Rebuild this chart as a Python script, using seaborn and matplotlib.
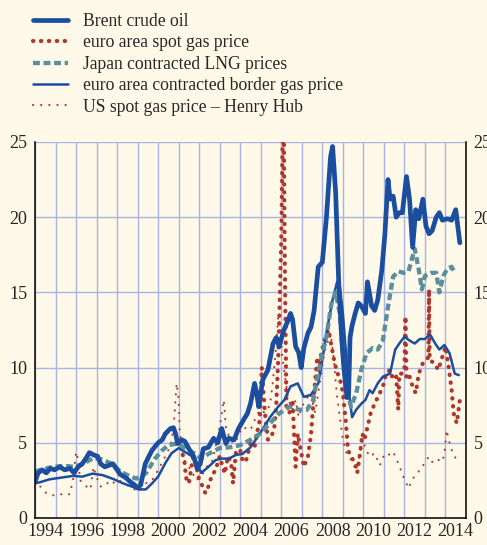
import seaborn as sns
import matplotlib.pyplot as plt
from matplotlib.ticker import FixedLocator, NullFormatter

# colours
bg = "#fef9e8"
grid_col = "#aab4e4"
dark_blue = "#1b4e9f"
red = "#b0352b"
teal = "#5b8f9d"

# Brent crude oil
brent_t = [1994.0, 1994.15, 1994.35, 1994.55, 1994.75, 1994.95, 1995.2, 1995.45, 1995.7, 1995.9,
           1996.1, 1996.3, 1996.5, 1996.65, 1996.85, 1997.05, 1997.2, 1997.4, 1997.6, 1997.8,
           1997.95, 1998.15, 1998.4, 1998.65, 1998.85, 1999.0, 1999.15, 1999.37, 1999.55, 1999.7,
           2000.0, 2000.2, 2000.35, 2000.6, 2000.75, 2000.85, 2000.95, 2001.15, 2001.3, 2001.5,
           2001.73, 2001.9, 2002.05, 2002.2, 2002.45, 2002.7, 2002.9, 2003.1, 2003.3, 2003.45,
           2003.7, 2003.9, 2004.15, 2004.35, 2004.5, 2004.7, 2004.8, 2004.9, 2005.1, 2005.35,
           2005.6, 2005.75, 2005.9, 2006.1, 2006.3, 2006.45, 2006.55, 2006.7, 2006.85, 2006.97,
           2007.1, 2007.3, 2007.45, 2007.6, 2007.8, 2008.0, 2008.2, 2008.4, 2008.5, 2008.65,
           2008.8, 2008.95, 2009.05, 2009.2, 2009.28, 2009.35, 2009.45, 2009.6, 2009.75, 2009.9,
           2010.1, 2010.2, 2010.4, 2010.55, 2010.7, 2010.9, 2011.05, 2011.2, 2011.3, 2011.45,
           2011.6, 2011.75, 2011.9, 2012.1, 2012.25, 2012.4, 2012.55, 2012.7, 2012.9, 2013.05,
           2013.2, 2013.35, 2013.55, 2013.7, 2013.85, 2014.1, 2014.3, 2014.5, 2014.7]
brent_v = [2.4, 3.0, 3.2, 3.0, 3.3, 3.2, 3.4, 3.2, 3.3, 3.0,
           3.4, 3.6, 4.0, 4.35, 4.2, 4.1, 3.6, 3.4, 3.5, 3.6,
           3.3, 2.9, 2.7, 2.4, 2.2, 2.0, 2.2, 3.6, 4.1, 4.5,
           5.0, 5.2, 5.6, 5.95, 6.0, 5.6, 4.95, 5.2, 5.1, 4.6,
           4.1, 3.3, 3.6, 4.6, 4.7, 5.3, 5.0, 5.95, 4.95, 5.3,
           5.2, 5.9, 6.5, 6.95, 7.6, 8.95, 8.3, 7.4, 9.2, 9.85,
           11.6, 12.0, 11.4, 12.4, 13.05, 13.6, 13.2, 11.4, 11.0, 10.0,
           11.3, 12.3, 12.7, 13.8, 16.7, 17.0, 20.0, 24.0, 24.7, 21.6,
           15.6, 11.8, 10.0, 8.0, 8.2, 12.0, 12.8, 13.6, 14.3, 14.1,
           13.6, 15.7, 14.1, 13.8, 14.5, 16.5, 18.9, 22.5, 21.2, 21.4,
           20.0, 20.3, 20.3, 22.7, 21.2, 18.0, 20.5, 19.9, 21.2, 19.4,
           18.9, 19.1, 20.0, 20.3, 19.8, 19.9, 19.8, 20.5, 18.3]

# euro area spot gas price
spot_t = [2001.2, 2001.3, 2001.35, 2001.5, 2001.7, 2001.85, 2001.95, 2002.1, 2002.3, 2002.45,
          2002.6, 2002.8, 2003.0, 2003.1, 2003.25, 2003.4, 2003.55, 2003.65, 2003.8, 2004.0,
          2004.1, 2004.25, 2004.35, 2004.5, 2004.7, 2004.85, 2004.95, 2005.05, 2005.1, 2005.2,
          2005.35, 2005.5, 2005.65, 2005.75, 2005.85, 2005.9, 2006.0, 2006.08, 2006.12, 2006.16,
          2006.25, 2006.4, 2006.55, 2006.65, 2006.7, 2006.8, 2006.95, 2007.1, 2007.3, 2007.45,
          2007.6, 2007.75, 2007.85, 2007.95, 2008.1, 2008.3, 2008.45, 2008.6, 2008.75, 2008.9,
          2009.0, 2009.15, 2009.25, 2009.4, 2009.6, 2009.7, 2009.8, 2009.95, 2010.05, 2010.2,
          2010.35, 2010.55, 2010.8, 2011.0, 2011.1, 2011.3, 2011.45, 2011.6, 2011.7, 2011.75,
          2011.9, 2012.0, 2012.05, 2012.1, 2012.25, 2012.4, 2012.55, 2012.7, 2012.9, 2013.05,
          2013.17, 2013.2, 2013.23, 2013.45, 2013.65, 2013.8, 2014.0, 2014.15, 2014.3, 2014.4,
          2014.55, 2014.7]
spot_v = [4.2, 3.6, 2.7, 2.3, 4.1, 3.6, 2.75, 2.3, 1.65, 2.1,
          2.75, 3.2, 4.1, 3.6, 2.95, 4.1, 3.75, 2.3, 4.5, 4.5,
          3.9, 3.7, 4.1, 5.0, 4.75, 5.85, 6.5, 10.0, 9.0, 7.0,
          5.2, 5.4, 5.85, 7.4, 10.5, 13.2, 18.5, 27.0, 27.0, 18.5,
          7.4, 7.0, 7.85, 4.75, 3.4, 5.6, 4.5, 3.4, 4.1, 5.6,
          8.3, 10.7, 9.6, 11.0, 11.8, 12.5, 11.4, 10.3, 9.6, 9.0,
          8.3, 6.3, 4.5, 4.1, 3.6, 3.0, 3.9, 5.6, 5.2, 6.05,
          6.95, 7.6, 8.3, 8.95, 9.6, 9.85, 9.2, 9.4, 7.2, 9.6,
          9.6, 9.85, 13.4, 9.2, 9.4, 8.75, 8.3, 9.6, 10.3, 10.5,
          10.7, 15.2, 10.5, 10.3, 9.85, 10.5, 11.4, 10.1, 8.5, 6.95,
          6.3, 7.85]

# Japan contracted LNG prices
lng_t = [1994.0, 1994.3, 1994.7, 1995.2, 1995.6, 1995.9, 1996.35, 1996.85, 1997.25, 1997.75,
         1998.15, 1998.65, 1998.95, 1999.4, 1999.85, 2000.2, 2000.5, 2000.95, 2001.3, 2001.75,
         2002.1, 2002.5, 2003.0, 2003.5, 2003.85, 2004.0, 2004.5, 2004.95, 2005.45, 2005.9,
         2006.4, 2006.85, 2007.25, 2007.55, 2007.8, 2008.0, 2008.2, 2008.45, 2008.65, 2008.85,
         2009.0, 2009.15, 2009.4, 2009.65, 2009.9, 2010.15, 2010.45, 2010.7, 2010.95, 2011.2,
         2011.45, 2011.7, 2011.95, 2012.2, 2012.35, 2012.5, 2012.7, 2012.85, 2013.0, 2013.3,
         2013.55, 2013.7, 2013.9, 2014.1, 2014.3, 2014.45]
lng_v = [3.1, 3.2, 3.35, 3.45, 3.45, 3.4, 3.6, 4.0, 3.9, 3.6,
         3.1, 2.75, 2.62, 2.97, 3.95, 4.5, 4.85, 4.95, 4.65, 4.3,
         3.95, 4.3, 4.65, 4.7, 4.8, 4.85, 5.2, 5.6, 6.3, 6.95,
         7.4, 7.2, 7.2, 7.85, 9.6, 10.95, 12.05, 14.3, 15.0, 13.6,
         11.0, 8.7, 7.4, 8.3, 9.85, 10.95, 11.3, 11.2, 11.8, 14.05,
         16.05, 16.4, 16.3, 16.4, 17.15, 17.9, 16.5, 15.2, 16.1, 16.3,
         16.3, 15.0, 16.1, 16.6, 16.7, 16.3]

# euro area contracted border gas price
border_t = [1994.0, 1994.3, 1994.7, 1995.35, 1995.85, 1996.3, 1996.8, 1997.3, 1997.8, 1998.3,
            1998.8, 1999.05, 1999.4, 1999.7, 2000.0, 2000.35, 2000.65, 2001.0, 2001.3, 2001.65,
            2001.9, 2002.1, 2002.45, 2002.8, 2003.1, 2003.45, 2003.8, 2004.1, 2004.5, 2004.95,
            2005.45, 2005.85, 2006.15, 2006.45, 2006.8, 2007.1, 2007.45, 2007.8, 2008.0, 2008.25,
            2008.5, 2008.72, 2008.85, 2009.0, 2009.15, 2009.3, 2009.45, 2009.65, 2009.9, 2010.1,
            2010.3, 2010.45, 2010.7, 2010.95, 2011.3, 2011.55, 2011.75, 2012.0, 2012.25, 2012.5,
            2012.75, 2013.0, 2013.25, 2013.5, 2013.7, 2013.95, 2014.2, 2014.45, 2014.65]
border_v = [2.3, 2.4, 2.57, 2.7, 2.8, 2.75, 2.95, 2.85, 2.6, 2.3,
            2.05, 1.9, 1.9, 2.3, 2.75, 3.65, 4.3, 4.65, 4.4, 4.1,
            3.65, 3.0, 3.4, 3.85, 3.95, 3.95, 4.2, 4.25, 4.7, 5.6,
            6.7, 7.4, 7.85, 8.75, 8.95, 8.05, 8.2, 8.95, 10.5, 12.7,
            14.5, 15.7, 15.4, 13.6, 11.0, 8.3, 6.7, 7.2, 7.6, 7.85,
            8.5, 8.3, 8.95, 9.4, 9.6, 11.2, 11.6, 12.05, 11.8, 11.6,
            11.9, 11.9, 12.2, 11.6, 11.2, 11.5, 10.95, 9.6, 9.5]

# US spot gas price - Henry Hub
hh_t = [1994.0, 1994.25, 1994.55, 1994.85, 1995.2, 1995.5, 1995.7, 1995.85, 1996.0, 1996.1,
        1996.2, 1996.35, 1996.5, 1996.7, 1996.85, 1997.0, 1997.2, 1997.4, 1997.65, 1997.9,
        1998.1, 1998.35, 1998.6, 1998.85, 1999.05, 1999.4, 1999.7, 2000.0, 2000.35, 2000.6,
        2000.75, 2000.9, 2001.0, 2001.05, 2001.2, 2001.35, 2001.6, 2001.85, 2002.1, 2002.35,
        2002.6, 2002.8, 2003.0, 2003.2, 2003.3, 2003.5, 2003.7, 2003.9, 2004.1, 2004.5,
        2004.7, 2004.95, 2005.2, 2005.45, 2005.6, 2005.75, 2005.85, 2005.95, 2006.05, 2006.2,
        2006.35, 2006.55, 2006.7, 2006.85, 2007.0, 2007.2, 2007.4, 2007.65, 2007.9, 2008.1,
        2008.4, 2008.55, 2008.7, 2008.85, 2009.0, 2009.15, 2009.4, 2009.65, 2009.8, 2009.95,
        2010.15, 2010.3, 2010.55, 2010.8, 2011.05, 2011.3, 2011.45, 2011.7, 2011.95, 2012.2,
        2012.35, 2012.6, 2012.85, 2013.0, 2013.2, 2013.4, 2013.65, 2013.85, 2013.95, 2014.05,
        2014.2, 2014.35, 2014.55, 2014.75]
hh_v = [2.5, 2.1, 1.65, 1.5, 1.6, 1.5, 1.6, 2.5, 4.4, 3.9,
        2.5, 2.3, 2.1, 1.9, 3.4, 2.7, 2.1, 2.1, 2.5, 2.3,
        2.5, 2.3, 2.1, 1.9, 1.75, 2.3, 2.5, 3.2, 4.1, 4.8,
        5.95, 8.95, 7.85, 5.85, 4.3, 3.6, 3.2, 2.5, 2.75, 3.4,
        3.6, 4.75, 6.05, 7.85, 6.05, 5.2, 4.95, 5.4, 6.05, 5.85,
        6.5, 7.2, 7.0, 7.5, 9.2, 11.4, 13.4, 12.7, 10.7, 9.2,
        7.85, 7.2, 7.85, 6.7, 7.4, 7.85, 8.3, 7.0, 9.2, 11.0,
        12.3, 10.7, 8.3, 6.7, 5.2, 4.4, 3.86, 3.2, 4.08, 5.2,
        4.5, 4.08, 4.3, 3.5, 4.3, 4.2, 4.4, 3.64, 2.75, 1.97,
        2.5, 2.97, 3.3, 3.75, 4.08, 3.64, 3.86, 3.75, 4.3, 5.85,
        5.0, 4.3, 3.86, 3.86]

labels = ["Brent crude oil", "euro area spot gas price", "Japan contracted LNG prices",
          "euro area contracted border gas price", "US spot gas price \u2013 Henry Hub"]

sns.set_style("white", {"axes.facecolor": bg, "figure.facecolor": bg})
plt.rcParams["font.family"] = ["Liberation Serif", "DejaVu Serif"]
plt.rcParams["font.size"] = 13

fig = plt.figure(figsize=(4.87, 5.45), dpi=100)
ax = fig.add_axes([35 / 487, 27 / 545, 431 / 487, 376 / 545])

sns.lineplot(x=hh_t, y=hh_v, ax=ax, color=red, lw=1.5, sort=False, estimator=None,
             linestyle=(0, (0.1, 3.8)), dash_capstyle="round", label=labels[4])
sns.lineplot(x=spot_t, y=spot_v, ax=ax, color=red, lw=3.0, sort=False, estimator=None,
             linestyle=(0, (0.1, 1.8)), dash_capstyle="round", label=labels[1])
sns.lineplot(x=border_t, y=border_v, ax=ax, color=dark_blue, lw=1.8, sort=False,
             estimator=None, label=labels[3])
sns.lineplot(x=lng_t, y=lng_v, ax=ax, color=teal, lw=3.1, sort=False, estimator=None,
             linestyle=(0, (1.6, 0.85)), label=labels[2])
sns.lineplot(x=brent_t, y=brent_v, ax=ax, color=dark_blue, lw=3.4, sort=False,
             estimator=None, label=labels[0])

ax.set_xlim(1994, 2015)
ax.set_ylim(0, 25)
ax.set_xlabel("")
ax.set_ylabel("")

# year ticks without labels, labels centred between them every two years
ax.xaxis.set_major_locator(FixedLocator(list(range(1994, 2016))))
ax.xaxis.set_major_formatter(NullFormatter())
ax.set_xticks([y + 0.5 for y in range(1994, 2015, 2)],
              labels=[str(y) for y in range(1994, 2015, 2)], minor=True)
ax.tick_params(axis="x", which="major", direction="out", length=5, width=1, color="black")
ax.tick_params(axis="x", which="minor", length=0, pad=3.5, labelsize=13)
ax.set_yticks([0, 5, 10, 15, 20, 25])
ax.tick_params(axis="y", length=0, pad=5.5, labelsize=13, labelleft=True, labelright=True)

ax.grid(True, which="major", color=grid_col, lw=1.0)
ax.set_axisbelow(True)
for side in ["left", "right", "bottom"]:
    ax.spines[side].set_visible(True)
    ax.spines[side].set_color("black")
    ax.spines[side].set_linewidth(1.1)
ax.spines["top"].set_visible(False)

handles, labs = ax.get_legend_handles_labels()
order = [labs.index(l) for l in labels]
ax.get_legend().remove()
fig.legend([handles[i] for i in order], labels, loc="upper left",
           bbox_to_anchor=(33 / 487, 1 - 13 / 545), frameon=False, borderpad=0,
           borderaxespad=0, handlelength=2.0, handletextpad=0.85, labelspacing=0.25,
           fontsize=12.7)

fig.savefig("out.png", dpi=100, facecolor=bg)
